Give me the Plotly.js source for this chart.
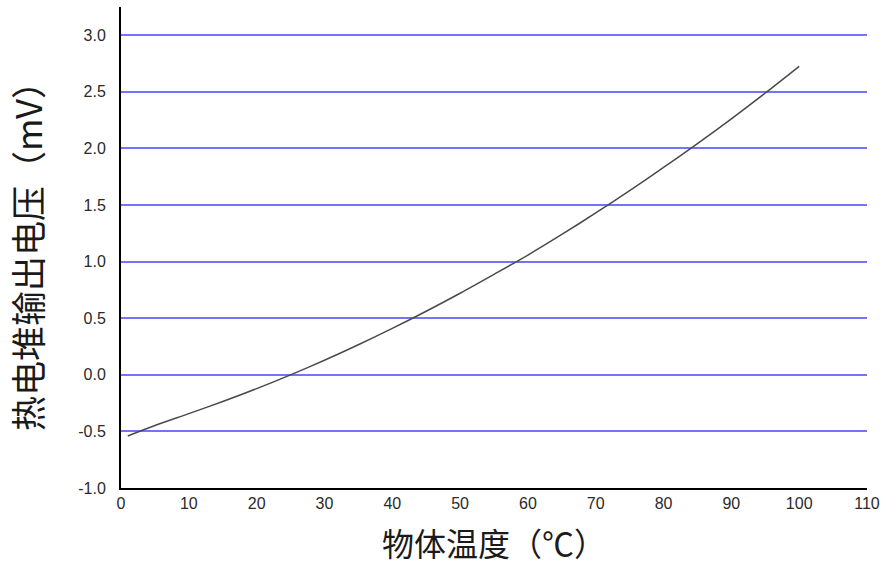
<!DOCTYPE html>
<html><head><meta charset="utf-8">
<script src="https://cdn.plot.ly/plotly-3.0.1.min.js"></script>
<style>body{margin:0;background:#fff}#c{width:890px;height:575px}</style>
</head><body><div id="c"></div>
<script>
const temperature = [1, 5, 10, 15, 20, 25, 30, 35, 40, 45, 50, 55, 60, 65, 70, 75, 80, 85, 90, 95, 100];
const voltage = [-0.54, -0.448, -0.343, -0.236, -0.122, 0.0, 0.129, 0.266, 0.410, 0.562, 0.721, 0.888, 1.058, 1.240, 1.430, 1.627, 1.832, 2.043, 2.262, 2.490, 2.726];
const xTicks = [0, 10, 20, 30, 40, 50, 60, 70, 80, 90, 100, 110];
const yTicks = [-1.0, -0.5, 0.0, 0.5, 1.0, 1.5, 2.0, 2.5, 3.0];
const xTitle = '物体温度（℃）';
const yTitle = '热电堆输出电压（mV）';

Plotly.newPlot('c', [{
  x: temperature, y: voltage, type: 'scatter', mode: 'lines',
  line: {color: '#4a4a4a', width: 1.5, shape: 'spline', smoothing: 0.8}, hoverinfo: 'none'
}], {
  width: 890, height: 575,
  margin: {l: 121, r: 23, t: 7, b: 87},
  paper_bgcolor: '#fff', plot_bgcolor: '#fff',
  showlegend: false,
  font: {family: 'Liberation Sans, Arial, sans-serif', color: '#333'},
  xaxis: {
    range: [0, 110], tickvals: xTicks, ticktext: xTicks.map(String),
    showgrid: false, zeroline: false, showline: true, linecolor: '#000', linewidth: 2,
    ticks: '', tickfont: {size: 16, color: '#2a2a2a'},
    title: {text: xTitle, font: {family: 'Noto Sans CJK SC', size: 32, color: '#1a1a1a'}, standoff: 22}
  },
  yaxis: {
    range: [-1, 3.25], tickvals: yTicks, ticktext: yTicks.map(v => v.toFixed(1)),
    showgrid: true, gridcolor: '#7373ff', gridwidth: 2, zeroline: false,
    showline: true, linecolor: '#000', linewidth: 2, ticks: '',
    tickfont: {size: 16, color: '#2a2a2a'}, ticklabelstandoff: 10,
    title: {text: yTitle, font: {family: 'Noto Sans CJK SC', size: 35, color: '#1a1a1a'}, standoff: 25}
  }
}, {staticPlot: true});
</script></body></html>
